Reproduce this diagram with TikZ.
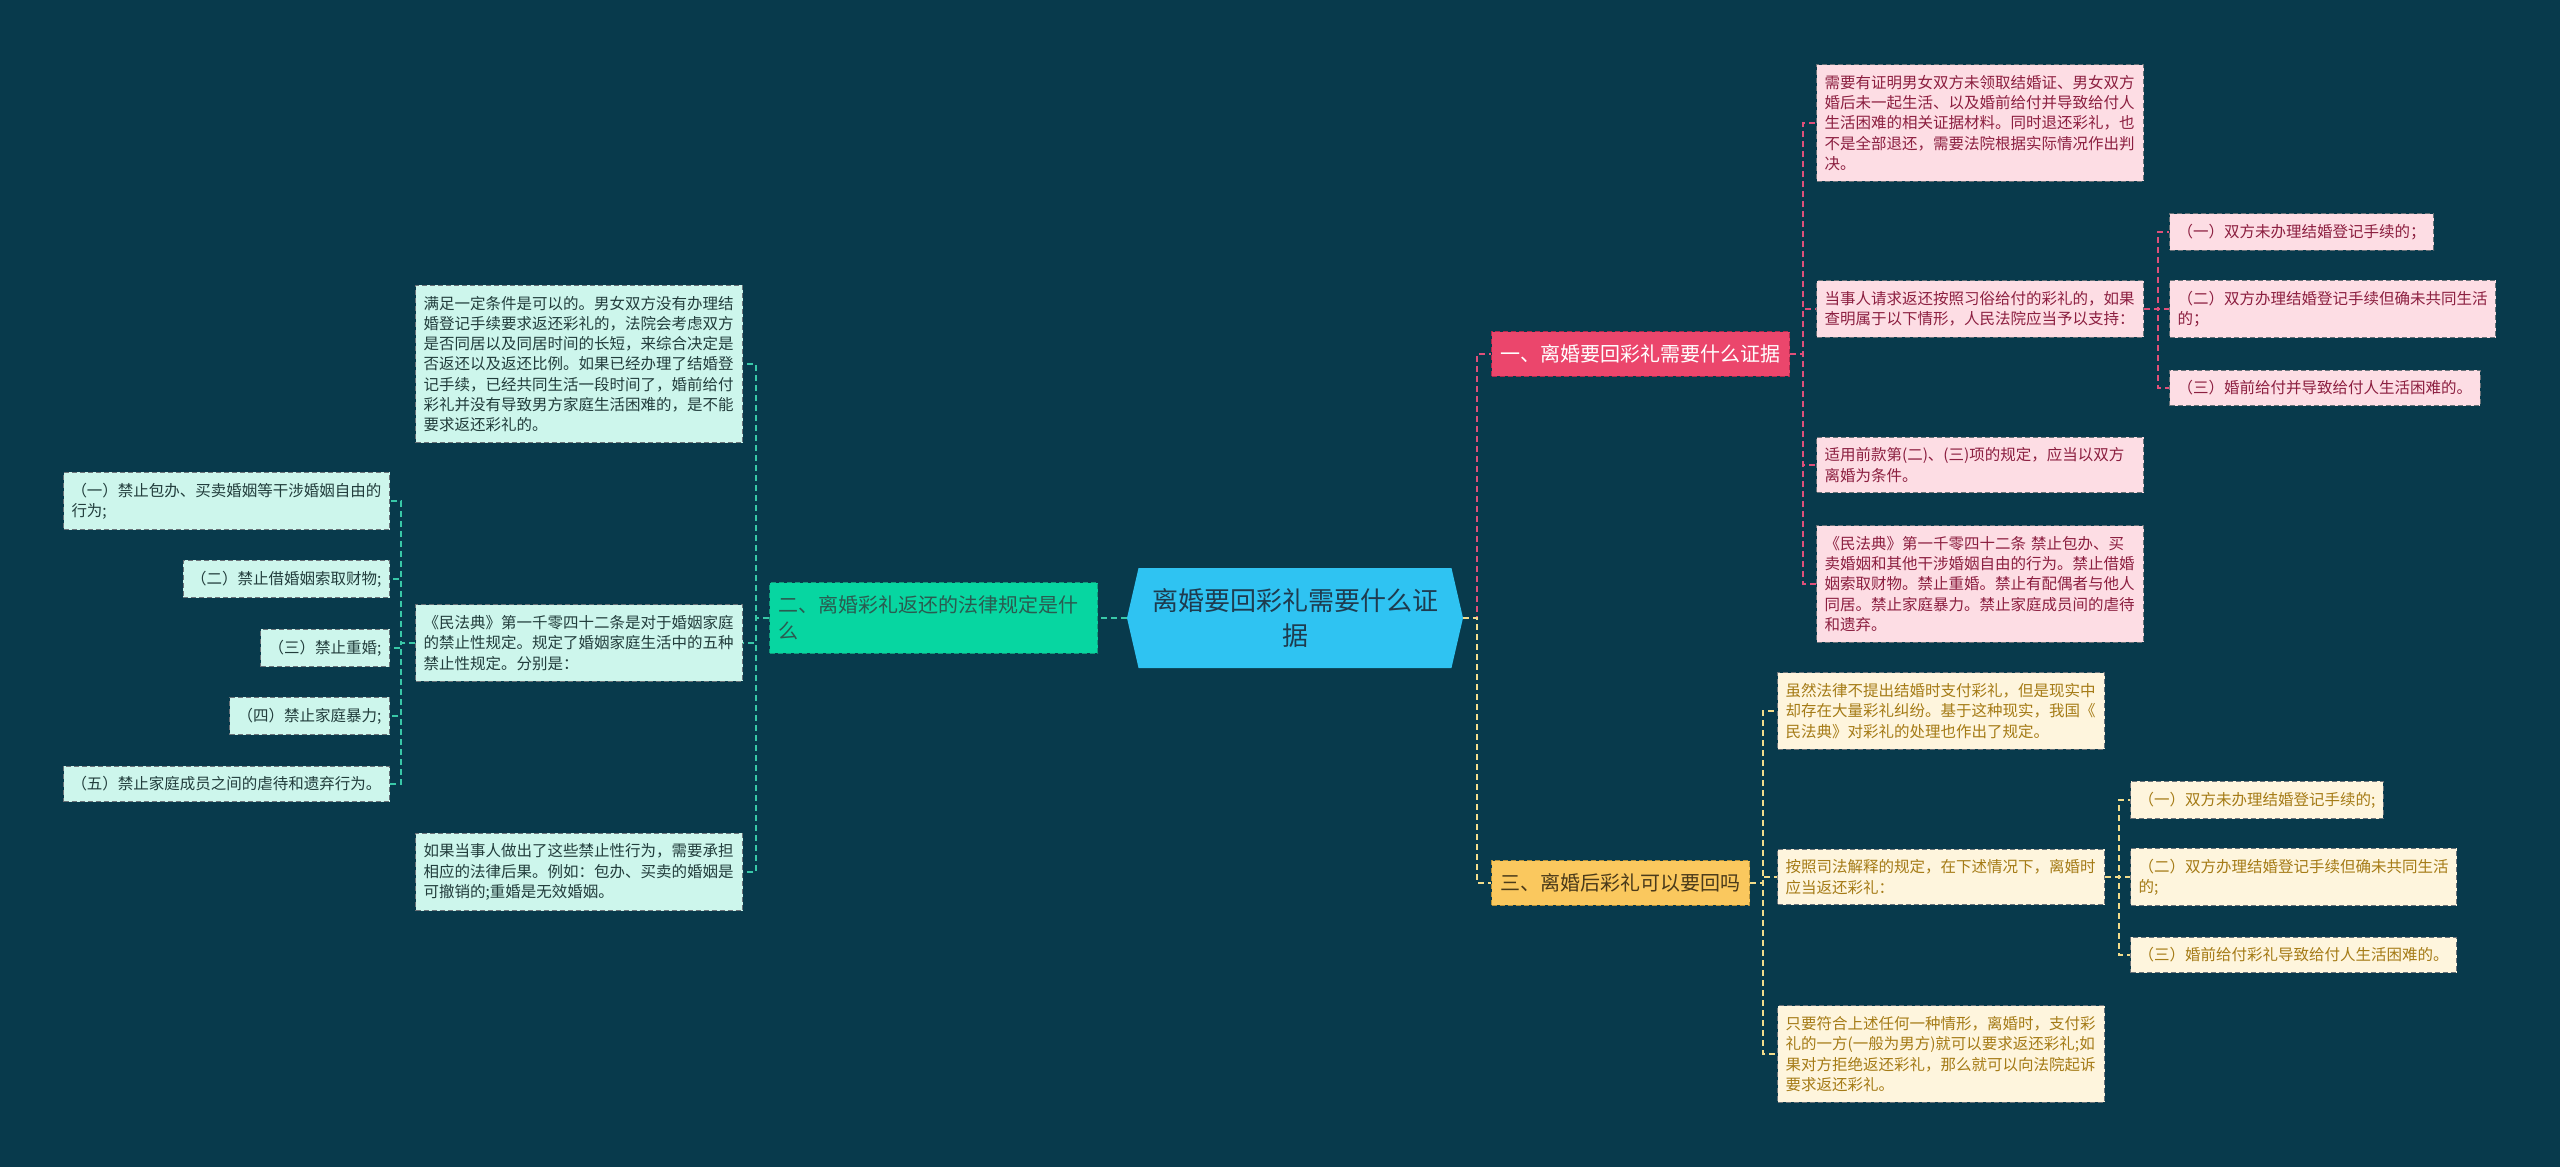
\documentclass[tikz,border=0pt]{standalone}
\usepackage{fontspec}
\setmainfont{Noto Sans CJK SC}
\usepackage{tikz}
\usetikzlibrary{shapes}
\usetikzlibrary{shapes.symbols}

\definecolor{bgcol}{HTML}{083A4C}
\definecolor{topicfill}{HTML}{2FC3F2}
\definecolor{topictext}{HTML}{1E3B4F}
\definecolor{redfill}{HTML}{EB466C}
\definecolor{rededge}{HTML}{B02A4C}
\definecolor{greenfill}{HTML}{07D6A1}
\definecolor{greenedge}{HTML}{129C7C}
\definecolor{greentext}{HTML}{2A5B50}
\definecolor{goldfill}{HTML}{FAC85E}
\definecolor{goldedge}{HTML}{B8923A}
\definecolor{goldtext}{HTML}{4A3A1A}
\definecolor{pinkfill}{HTML}{FDDDE4}
\definecolor{pinktext}{HTML}{8C1F40}
\definecolor{mintfill}{HTML}{CDF6EC}
\definecolor{minttext}{HTML}{223D3C}
\definecolor{creamfill}{HTML}{FEF5DD}
\definecolor{creamtext}{HTML}{A57B16}
\definecolor{noteedge}{HTML}{6A7278}
\definecolor{pinkline}{HTML}{E0507A}
\definecolor{mintline}{HTML}{39C9A8}
\definecolor{goldline}{HTML}{F2DC8C}

\begin{document}
\begin{tikzpicture}[
    x=100pt, y=100pt,
    every node/.style={font=\fontsize{15.5pt}{20.3pt}\selectfont},
    topic/.style={signal, signal to=west and east, signal pointer angle=154, fill=topicfill, text=topictext, font=\fontsize{26pt}{35pt}\selectfont, text width=290pt, align=center, minimum height=100pt, minimum width=336pt},
    branch/.style={draw, dash pattern=on 5pt off 3pt, line width=1pt, font=\fontsize{20pt}{26pt}\selectfont, inner xsep=9pt, inner ysep=13pt, align=left},
    redbranch/.style={branch, fill=redfill, draw=rededge, text=white},
    greenbranch/.style={branch, fill=greenfill, draw=greenedge, text=greentext, text width=310pt},
    goldbranch/.style={branch, fill=goldfill, draw=goldedge, text=goldtext},
    note/.style={draw=noteedge, dash pattern=on 5pt off 3pt, line width=1pt, inner xsep=8pt, inner ysep=10.5pt, align=left},
    wide/.style={text width=311pt},
    pinknote/.style={note, fill=pinkfill, text=pinktext},
    mintnote/.style={note, fill=mintfill, text=minttext},
    creamnote/.style={note, fill=creamfill, text=creamtext},
    link/.style={dash pattern=on 6pt off 4pt, line width=1.8pt},
    pinklink/.style={link, draw=pinkline},
    mintlink/.style={link, draw=mintline},
    goldlink/.style={link, draw=goldline}
]
\fill[bgcol] (0,0) rectangle (25.6,-11.67);
\useasboundingbox (0,0) rectangle (25.6,-11.67);

\node[topic] (topic) at (12.95,-6.18) {离婚要回彩礼需要什么证\\据};

% branch one
\node[redbranch, anchor=west] (sec1) at (14.91,-3.54) {一、离婚要回彩礼需要什么证据};
\node[pinknote, wide, anchor=west] (note1a) at (18.16,-1.23) {需要有证明男女双方未领取结婚证、男女双方\\婚后未一起生活、以及婚前给付并导致给付人\\生活困难的相关证据材料。同时退还彩礼，也\\不是全部退还，需要法院根据实际情况作出判\\决。};
\node[pinknote, wide, anchor=west] (note1b) at (18.16,-3.09) {当事人请求返还按照习俗给付的彩礼的，如果\\查明属于以下情形，人民法院应当予以支持：};
\node[pinknote, wide, anchor=west] (note1c) at (18.16,-4.65) {适用前款第(二)、(三)项的规定，应当以双方\\离婚为条件。};
\node[pinknote, wide, anchor=west] (note1d) at (18.16,-5.84) {《民法典》第一千零四十二条 禁止包办、买\\卖婚姻和其他干涉婚姻自由的行为。禁止借婚\\姻索取财物。禁止重婚。禁止有配偶者与他人\\同居。禁止家庭暴力。禁止家庭成员间的虐待\\和遗弃。};
\node[pinknote, anchor=west] (item1a) at (21.69,-2.32) {（一）双方未办理结婚登记手续的；};
\node[pinknote, anchor=west] (item1b) at (21.69,-3.09) {（二）双方办理结婚登记手续但确未共同生活\\的；};
\node[pinknote, anchor=west] (item1c) at (21.69,-3.88) {（三）婚前给付并导致给付人生活困难的。};

% branch two
\node[greenbranch, anchor=east] (sec2) at (10.98,-6.18) {二、离婚彩礼返还的法律规定是什\\么};
\node[mintnote, wide, anchor=east] (note2a) at (7.43,-3.64) {满足一定条件是可以的。男女双方没有办理结\\婚登记手续要求返还彩礼的，法院会考虑双方\\是否同居以及同居时间的长短，来综合决定是\\否返还以及返还比例。如果已经办理了结婚登\\记手续，已经共同生活一段时间了，婚前给付\\彩礼并没有导致男方家庭生活困难的，是不能\\要求返还彩礼的。};
\node[mintnote, wide, anchor=east] (note2b) at (7.43,-6.43) {《民法典》第一千零四十二条是对于婚姻家庭\\的禁止性规定。规定了婚姻家庭生活中的五种\\禁止性规定。分别是：};
\node[mintnote, wide, anchor=east] (note2c) at (7.43,-8.72) {如果当事人做出了这些禁止性行为，需要承担\\相应的法律后果。例如：包办、买卖的婚姻是\\可撤销的;重婚是无效婚姻。};
\node[mintnote, anchor=east] (item2a) at (3.90,-5.01) {（一）禁止包办、买卖婚姻等干涉婚姻自由的\\行为;};
\node[mintnote, anchor=east] (item2b) at (3.90,-5.79) {（二）禁止借婚姻索取财物;};
\node[mintnote, anchor=east] (item2c) at (3.90,-6.48) {（三）禁止重婚;};
\node[mintnote, anchor=east] (item2d) at (3.90,-7.16) {（四）禁止家庭暴力;};
\node[mintnote, anchor=east] (item2e) at (3.90,-7.84) {（五）禁止家庭成员之间的虐待和遗弃行为。};

% branch three
\node[goldbranch, anchor=west] (sec3) at (14.91,-8.83) {三、离婚后彩礼可以要回吗};
\node[creamnote, wide, anchor=west] (note3a) at (17.77,-7.11) {虽然法律不提出结婚时支付彩礼，但是现实中\\却存在大量彩礼纠纷。基于这种现实，我国《\\民法典》对彩礼的处理也作出了规定。};
\node[creamnote, wide, anchor=west] (note3b) at (17.77,-8.77) {按照司法解释的规定，在下述情况下，离婚时\\应当返还彩礼：};
\node[creamnote, wide, anchor=west] (note3c) at (17.77,-10.54) {只要符合上述任何一种情形，离婚时，支付彩\\礼的一方(一般为男方)就可以要求返还彩礼;如\\果对方拒绝返还彩礼，那么就可以向法院起诉\\要求返还彩礼。};
\node[creamnote, anchor=west] (item3a) at (21.30,-8.00) {（一）双方未办理结婚登记手续的;};
\node[creamnote, anchor=west] (item3b) at (21.30,-8.77) {（二）双方办理结婚登记手续但确未共同生活\\的;};
\node[creamnote, anchor=west] (item3c) at (21.30,-9.55) {（三）婚前给付彩礼导致给付人生活困难的。};

\draw[mintlink] (topic.west) -- (sec2.east);
\draw[pinklink] (topic.east) -- ++(0.14,0) |- (sec1.west);
\draw[goldlink] (topic.east) -- ++(0.14,0) |- (sec3.west);

\draw[pinklink] (sec1.east) -- ++(0.13,0) |- (note1a.west);
\draw[pinklink] (sec1.east) -- ++(0.13,0) |- (note1b.west);
\draw[pinklink] (sec1.east) -- ++(0.13,0) |- (note1c.west);
\draw[pinklink] (sec1.east) -- ++(0.13,0) |- (note1d.west);
\draw[pinklink] (note1b.east) -- ++(0.14,0) |- (item1a.west);
\draw[pinklink] (note1b.east) -- ++(0.14,0) |- (item1b.west);
\draw[pinklink] (note1b.east) -- ++(0.14,0) |- (item1c.west);

\draw[mintlink] (sec2.west) -- ++(-0.13,0) |- (note2a.east);
\draw[mintlink] (sec2.west) -- ++(-0.13,0) |- (note2b.east);
\draw[mintlink] (sec2.west) -- ++(-0.13,0) |- (note2c.east);
\draw[mintlink] (note2b.west) -- ++(-0.14,0) |- (item2a.east);
\draw[mintlink] (note2b.west) -- ++(-0.14,0) |- (item2b.east);
\draw[mintlink] (note2b.west) -- ++(-0.14,0) |- (item2c.east);
\draw[mintlink] (note2b.west) -- ++(-0.14,0) |- (item2d.east);
\draw[mintlink] (note2b.west) -- ++(-0.14,0) |- (item2e.east);

\draw[goldlink] (sec3.east) -- ++(0.13,0) |- (note3a.west);
\draw[goldlink] (sec3.east) -- ++(0.13,0) |- (note3b.west);
\draw[goldlink] (sec3.east) -- ++(0.13,0) |- (note3c.west);
\draw[goldlink] (note3b.east) -- ++(0.14,0) |- (item3a.west);
\draw[goldlink] (note3b.east) -- ++(0.14,0) |- (item3b.west);
\draw[goldlink] (note3b.east) -- ++(0.14,0) |- (item3c.west);
\end{tikzpicture}
\end{document}
